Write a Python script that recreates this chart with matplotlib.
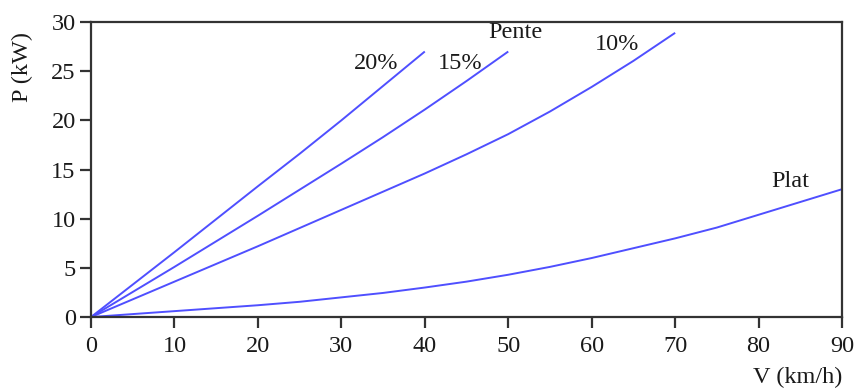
import matplotlib
matplotlib.use("Agg")
import matplotlib.pyplot as plt

# Power needed vs speed, for a few road gradients
v_plat = [0, 5, 10, 15, 20, 25, 30, 35, 40, 45, 50, 55, 60, 65, 70, 75, 80, 85, 90]
p_plat = [0, 0.3, 0.6, 0.9, 1.2, 1.55, 2.0, 2.45, 3.0, 3.6, 4.3, 5.1, 6.0,
          7.0, 8.0, 9.1, 10.4, 11.7, 13.0]

v_10 = [0, 5, 10, 15, 20, 25, 30, 35, 40, 45, 50, 55, 60, 65, 70]
p_10 = [0, 1.8, 3.6, 5.4, 7.2, 9.05, 10.9, 12.75, 14.6, 16.55, 18.6,
        20.9, 23.4, 26.05, 28.9]

v_15 = [0, 5, 10, 15, 20, 25, 30, 35, 40, 45, 50]
p_15 = [0, 2.55, 5.1, 7.7, 10.3, 12.95, 15.6, 18.3, 21.1, 24.0, 27.0]

v_20 = [0, 5, 10, 15, 20, 25, 30, 35, 40]
p_20 = [0, 3.3, 6.6, 9.95, 13.3, 16.6, 20.0, 23.5, 27.0]

x_ticks = [0, 10, 20, 30, 40, 50, 60, 70, 80, 90]
y_ticks = [0, 5, 10, 15, 20, 25, 30]

line_blue = "#4f4fff"
axis_gray = "#333333"
text_col = "#1a1a1a"

plt.rcParams["font.family"] = ["Liberation Serif", "DejaVu Serif"]

fig = plt.figure(figsize=(8.61, 3.89), dpi=100)
ax = fig.add_axes([0.1057, 0.185, 0.8723, 0.7584])

for v, p in [(v_plat, p_plat), (v_10, p_10), (v_15, p_15), (v_20, p_20)]:
    ax.plot(v, p, color=line_blue, lw=1.4, solid_capstyle="butt")

ax.set_xlim(0, 90)
ax.set_ylim(0, 30)
ax.set_xticks(x_ticks)
ax.set_yticks(y_ticks)

for s in ax.spines.values():
    s.set_color(axis_gray)
    s.set_linewidth(1.6)

ax.tick_params(direction="out", length=8, width=1.6, color=axis_gray,
               labelsize=17.5, labelcolor=text_col)
ax.tick_params(axis="x", pad=6)
ax.tick_params(axis="y", pad=3)

# curve labels
txt = dict(fontsize=17.5, color=text_col, ha="center", va="center")
ax.text(34.2, 25.8, "20%", **txt)
ax.text(44.2, 25.8, "15%", **txt)
ax.text(50.8, 28.9, "Pente", **txt)
ax.text(63.0, 27.7, "10%", **txt)
ax.text(83.8, 13.8, "Plat", **txt)

ax.set_ylabel("P (kW)", fontsize=17.5, color=text_col)
ax.yaxis.set_label_coords(-0.077, 0.847)
ax.set_xlabel("V (km/h)", fontsize=17.5, color=text_col)
ax.xaxis.set_label_coords(1.0, -0.17)
ax.xaxis.label.set_horizontalalignment("right")

fig.savefig("out.png", dpi=100)
